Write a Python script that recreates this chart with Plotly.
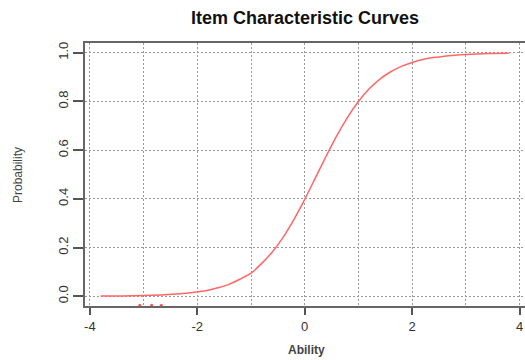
import plotly.graph_objects as go

# Values
ability = [-3.8, -3.4, -3.0, -2.6, -2.2, -2.0, -1.8, -1.6, -1.4, -1.2, -1.0,
           -0.8, -0.6, -0.4, -0.2, 0.0, 0.2, 0.4, 0.6, 0.8, 1.0, 1.2, 1.4,
           1.6, 1.8, 2.0, 2.2, 2.4, 2.6, 2.8, 3.0, 3.4, 3.8]
probability = [0.0007, 0.0015, 0.003, 0.006, 0.012, 0.018, 0.025, 0.036, 0.05,
               0.071, 0.095, 0.135, 0.183, 0.243, 0.316, 0.398, 0.487, 0.576,
               0.661, 0.736, 0.800, 0.852, 0.892, 0.922, 0.944, 0.960, 0.972,
               0.980, 0.986, 0.990, 0.993, 0.997, 0.998]

# small red marks near the bottom axis
mark_x = [-3.07, -2.85, -2.67]
mark_y = [-0.037, -0.037, -0.037]

x_ticks = [-4, -2, 0, 2, 4]
y_ticks = [0.0, 0.2, 0.4, 0.6, 0.8, 1.0]

fig = go.Figure()
fig.add_trace(go.Scatter(x=ability, y=probability, mode="lines",
                         line=dict(color="#ff6666", width=1.5, shape="spline", smoothing=0.8),
                         showlegend=False, hoverinfo="skip"))
fig.add_trace(go.Scatter(x=mark_x, y=mark_y, mode="markers",
                         marker=dict(color="#ff5555", size=3),
                         showlegend=False, hoverinfo="skip", cliponaxis=False))

DOT = "2px,2px"
grid = dict(showgrid=True, gridcolor="#999999", gridwidth=1, griddash=DOT)

fig.update_layout(
    width=525, height=360,
    margin=dict(l=85, r=0, t=43, b=54, autoexpand=False),
    paper_bgcolor="white", plot_bgcolor="white",
    font=dict(family="Liberation Sans, Arial, sans-serif", color="#333333", size=13),
    title=dict(text="<b>Item Characteristic Curves</b>", x=305 / 525, xanchor="center",
               y=1 - 18 / 360, yanchor="middle", yref="container",
               font=dict(size=18, color="#111111")),
    xaxis=dict(range=[-4.09, 4.10], tickvals=x_ticks, ticktext=[str(v) for v in x_ticks],
               ticks="outside", ticklen=7, tickwidth=1.5, tickcolor="#555555",
               showline=True, linecolor="#666666", linewidth=2, mirror=True,
               zeroline=False, automargin=False,
               minor=dict(dtick=1, tick0=0, showgrid=True, gridcolor="#999999",
                          griddash=DOT, gridwidth=1, ticks=""),
               **grid),
    yaxis=dict(range=[-0.04, 1.04], tickvals=y_ticks, ticktext=["%.1f" % v for v in y_ticks],
               tickangle=-90, ticks="outside", ticklen=10, tickwidth=1.5, tickcolor="#555555",
               showline=True, linecolor="#666666", linewidth=2, mirror=True,
               zeroline=False, automargin=False,
               **grid),
    annotations=[
        dict(text="<b>Ability</b>", xref="paper", yref="paper", x=(306 - 85) / 440,
             y=-(350 - 306) / 263, xanchor="center", yanchor="middle", showarrow=False,
             font=dict(size=12, color="#444444")),
        dict(text="Probability", xref="paper", yref="paper", x=-(85 - 18) / 440,
             y=(306 - 175) / 263, xanchor="center", yanchor="middle", showarrow=False,
             textangle=-90, font=dict(size=12, color="#444444")),
    ],
)

fig.write_html("out.html", config={"displayModeBar": False},
               post_script="document.body.style.margin='0';")
